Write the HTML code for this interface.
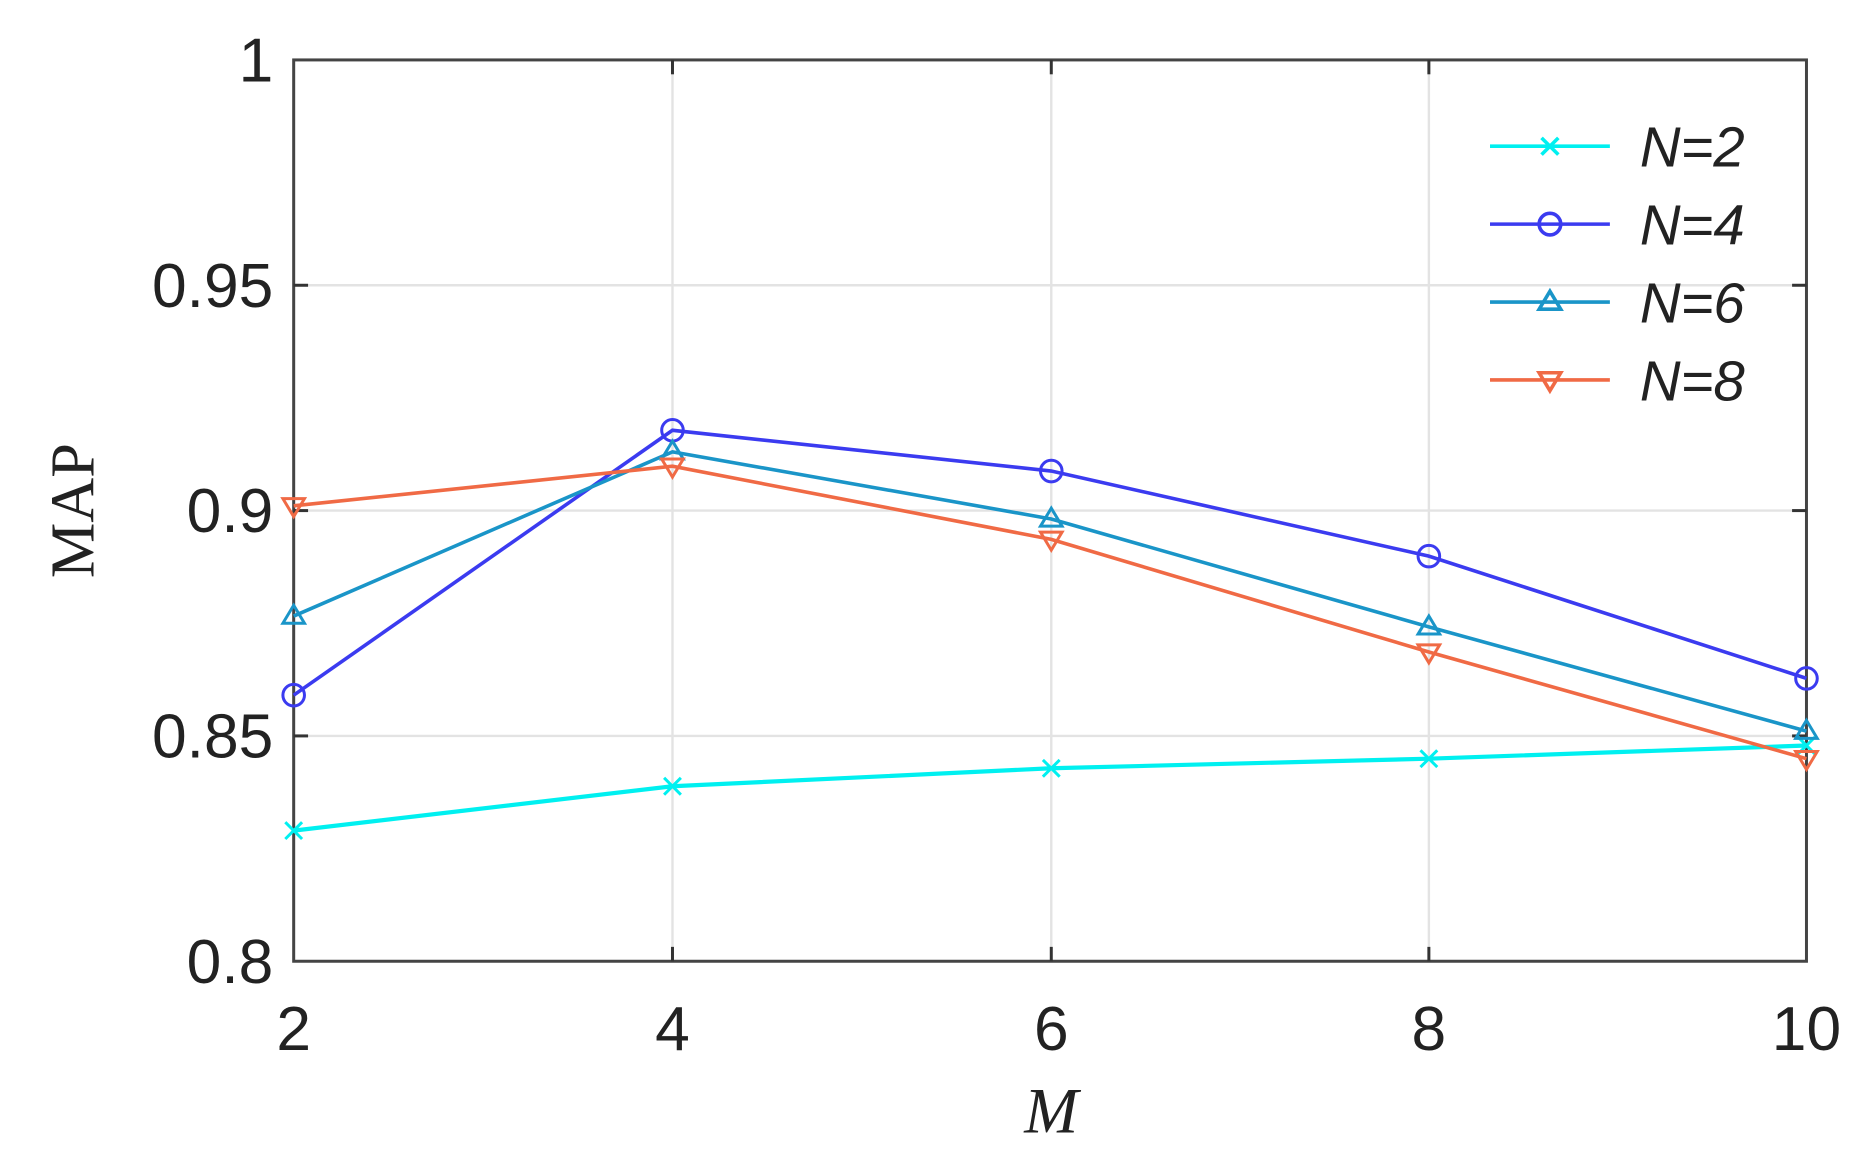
<!DOCTYPE html>
<html><head><style>html,body{margin:0;padding:0;background:#fff;}svg{display:block}</style></head>
<body>
<svg width="1870" height="1171" viewBox="0 0 1560 977" preserveAspectRatio="none" xmlns="http://www.w3.org/2000/svg">
<rect width="1560" height="977" fill="#fff"/>
<g stroke="#e3e3e3" stroke-width="2">
<line x1="561" y1="50" x2="561" y2="802"/><line x1="877" y1="50" x2="877" y2="802"/><line x1="1192" y1="50" x2="1192" y2="802"/>
<line x1="245" y1="238" x2="1507" y2="238"/><line x1="245" y1="426" x2="1507" y2="426"/><line x1="245" y1="614" x2="1507" y2="614"/>
</g>
<rect x="245" y="50" width="1262" height="752" fill="none" stroke="#444" stroke-width="2.5"/>
<g stroke="#333" stroke-width="2.5">
<line x1="561" y1="802" x2="561" y2="790"/><line x1="877" y1="802" x2="877" y2="790"/><line x1="1192" y1="802" x2="1192" y2="790"/>
<line x1="561" y1="50" x2="561" y2="62"/><line x1="877" y1="50" x2="877" y2="62"/><line x1="1192" y1="50" x2="1192" y2="62"/>
<line x1="245" y1="238" x2="257" y2="238"/><line x1="245" y1="426" x2="257" y2="426"/><line x1="245" y1="614" x2="257" y2="614"/>
<line x1="1507" y1="238" x2="1495" y2="238"/><line x1="1507" y1="426" x2="1495" y2="426"/><line x1="1507" y1="614" x2="1495" y2="614"/>
</g>
<g font-family="Liberation Sans, sans-serif" font-size="52" fill="#222">
<text x="228" y="68" text-anchor="end">1</text>
<text x="228" y="256" text-anchor="end">0.95</text>
<text x="228" y="444" text-anchor="end">0.9</text>
<text x="228" y="632" text-anchor="end">0.85</text>
<text x="228" y="820" text-anchor="end">0.8</text>
<text x="245" y="876" text-anchor="middle">2</text>
<text x="561" y="876" text-anchor="middle">4</text>
<text x="877" y="876" text-anchor="middle">6</text>
<text x="1192" y="876" text-anchor="middle">8</text>
<text x="1507" y="876" text-anchor="middle">10</text>
</g>
<text transform="translate(78,426) rotate(-90)" font-family="Liberation Serif, serif" font-size="52" text-anchor="middle" fill="#222">MAP</text>
<text x="877" y="945" font-family="Liberation Serif, serif" font-style="italic" font-size="54" text-anchor="middle" fill="#222">M</text>
<polyline fill="none" stroke="#00f0f0" stroke-width="3.5" points="245,693 561,656 877,641 1192,633 1507,622"/>
<g stroke="#00f0f0" stroke-width="2.5">
<path d="M238,686l14,14M252,686l-14,14M554,649l14,14M568,649l-14,14M870,634l14,14M884,634l-14,14M1185,626l14,14M1199,626l-14,14M1500,615l14,14M1514,615l-14,14"/>
</g>
<polyline fill="none" stroke="#3b3bf0" stroke-width="3" points="245,580 561,359 877,393 1192,464 1507,566"/>
<g fill="none" stroke="#3b3bf0" stroke-width="2.5">
<circle cx="245" cy="580" r="9"/><circle cx="561" cy="359" r="9"/><circle cx="877" cy="393" r="9"/><circle cx="1192" cy="464" r="9"/><circle cx="1507" cy="566" r="9"/>
</g>
<polyline fill="none" stroke="#1a95c8" stroke-width="3" points="245,514 561,377 877,433 1192,523 1507,610"/>
<g fill="none" stroke="#1a95c8" stroke-width="2.5">
<path d="M245,505l9,15h-18z"/><path d="M561,368l9,15h-18z"/><path d="M877,424l9,15h-18z"/><path d="M1192,514l9,15h-18z"/><path d="M1507,601l9,15h-18z"/>
</g>
<polyline fill="none" stroke="#f06a45" stroke-width="3" points="245,422 561,389 877,450 1192,544 1507,633"/>
<g fill="none" stroke="#f06a45" stroke-width="2.5">
<path d="M245,431l9,-15h-18z"/><path d="M561,398l9,-15h-18z"/><path d="M877,459l9,-15h-18z"/><path d="M1192,553l9,-15h-18z"/><path d="M1507,642l9,-15h-18z"/>
</g>
<g stroke-width="3" fill="none">
<line x1="1243" y1="122" x2="1343" y2="122" stroke="#00f0f0"/>
<path d="M1286,115l14,14M1300,115l-14,14" stroke="#00f0f0"/>
<line x1="1243" y1="187" x2="1343" y2="187" stroke="#3b3bf0"/>
<circle cx="1293" cy="187" r="9" stroke="#3b3bf0"/>
<line x1="1243" y1="252" x2="1343" y2="252" stroke="#1a95c8"/>
<path d="M1293,243l9,15h-18z" stroke="#1a95c8"/>
<line x1="1243" y1="317" x2="1343" y2="317" stroke="#f06a45"/>
<path d="M1293,326l9,-15h-18z" stroke="#f06a45"/>
</g>
<g font-family="Liberation Sans, sans-serif" font-style="italic" font-size="47" fill="#222">
<text x="1368" y="139">N=2</text>
<text x="1368" y="204">N=4</text>
<text x="1368" y="269">N=6</text>
<text x="1368" y="334">N=8</text>
</g>
</svg>
</body></html>
